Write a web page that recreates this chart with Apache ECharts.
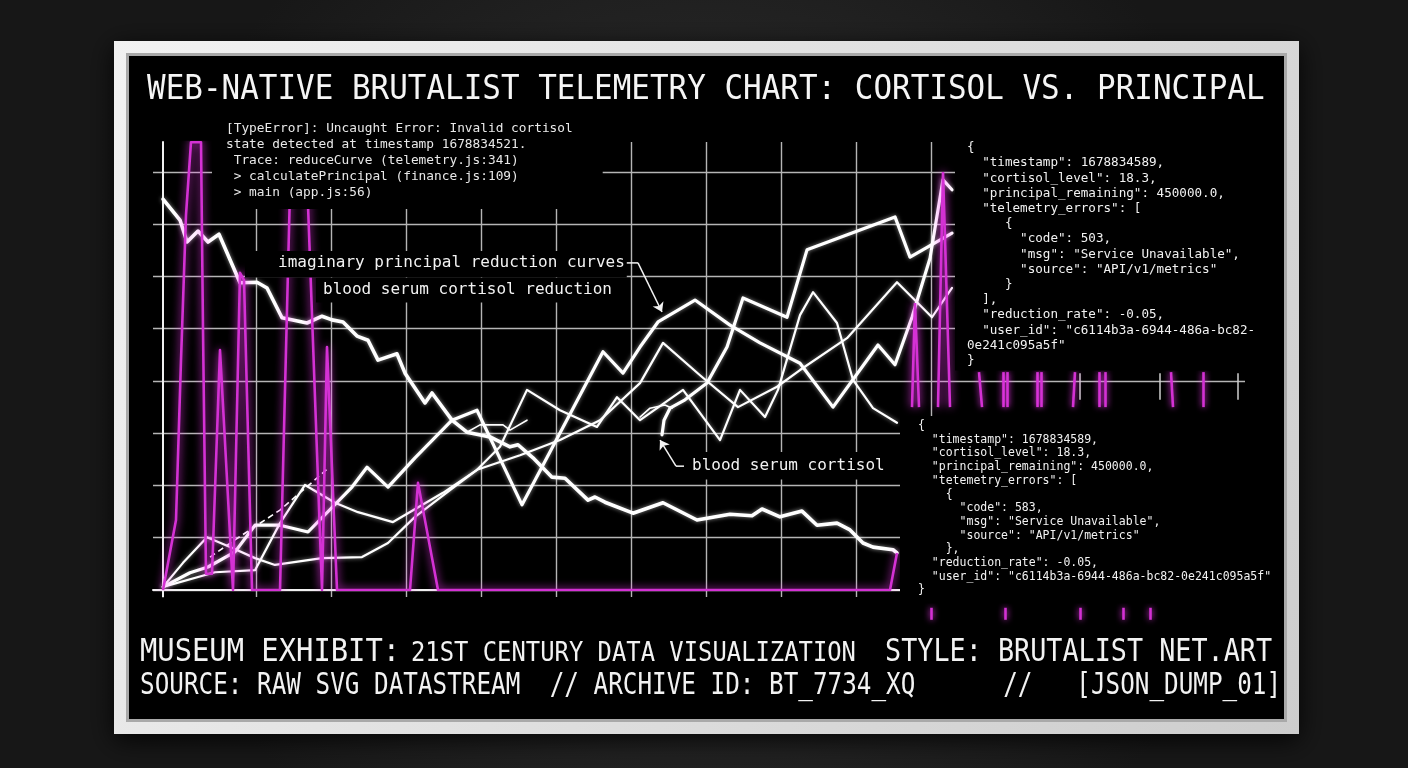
<!DOCTYPE html>
<html>
<head>
<meta charset="utf-8">
<script src="https://cdn.jsdelivr.net/npm/echarts@6/dist/echarts.min.js"></script>
<style>
html,body{margin:0;padding:0;background:#1b1b1b;}
#chart{width:1408px;height:768px;}
</style>
</head>
<body>
<div id="chart"></div>
<script>
// ---------------- DATA (x = sample time, y = normalised level) ----------------
const cortisolReduction = [[0,7.48],[17,7.08],[24,6.66],[35,6.87],[45,6.66],[56,6.81],[77,5.88],[94,5.89],[104,5.78],[119,5.21],[144,5.11],[159,5.24],[169,5.17],[180,5.13],[194,4.86],[205,4.78],[215,4.40],[234,4.52],[242,4.15],[262,3.58],[269,3.77],[289,3.25],[304,3.02],[327,2.93],[347,2.74],[355,2.78],[370,2.53],[389,2.16],[402,2.14],[425,1.72],[432,1.78],[442,1.68],[470,1.47],[500,1.67],[534,1.34],[567,1.45],[589,1.42],[599,1.55],[617,1.40],[639,1.51],[654,1.24],[674,1.28],[687,1.15],[700,0.90],[710,0.82],[730,0.77],[734,0.71]];
const principalCurve = [[0,0.06],[27,0.33],[45,0.44],[72,0.73],[92,1.24],[117,1.24],[145,1.11],[189,1.97],[204,2.35],[225,1.97],[252,2.53],[289,3.25],[314,3.44],[359,1.63],[440,4.56],[460,4.15],[477,4.65],[495,5.13],[532,5.55],[567,5.07],[597,4.73],[637,4.34],[670,3.50],[715,4.69],[732,4.31],[749,5.22],[767,6.35],[780,7.85],[789,7.66]];
const principalTop = [[499,2.97],[501,3.25],[507,3.48],[522,3.64],[544,3.96],[564,4.65],[580,5.59],[624,5.22],[644,6.51],[732,7.14],[747,6.37],[789,6.83]];
const telemetryZigzag = [[0,0.06],[52,0.34],[92,0.38],[117,1.28],[142,2.01],[172,1.67],[195,1.49],[230,1.30],[280,1.86],[314,2.30],[337,2.74],[364,3.83],[397,3.44],[434,3.12],[454,3.69],[477,3.25],[520,3.83],[557,2.87],[577,3.83],[602,3.31],[615,3.83],[637,5.26],[650,5.70],[674,5.11],[690,4.02],[710,3.48],[734,3.20]];
const serumCortisol = [[0,0.06],[20,0.52],[44,1.01],[70,0.80],[92,0.61],[112,0.48],[159,0.61],[199,0.63],[225,0.90],[252,1.40],[287,1.91],[314,2.30],[357,2.58],[397,2.87],[437,3.25],[477,3.96],[500,4.73],[537,4.11],[575,3.50],[614,3.89],[637,4.21],[684,4.82],[734,5.89],[769,5.22],[789,5.78]];
const dashedTrace = [[47,0.63],[72,0.96],[117,1.53],[155,2.16],[165,2.33]];
const hookTrace = [[304,3.02],[317,3.16],[340,3.16],[347,3.06],[364,3.25]];
const curlTrace = [[477,3.31],[487,3.48],[502,3.54],[509,3.48]];
const errorSignal = [[0,0],[13,1.34],[18,4.40],[23,7.18],[28,8.57],[38,8.57],[40,4.98],[43,0.31],[49,0.31],[57,4.59],[70,0],[77,6.07],[81,5.93],[89,0],[117,0],[128,8.42],[143,8.42],[159,0],[164,4.65],[174,0],[247,0],[255,2.05],[275,0],[727,0],[734,0.71]];
const errorSpikes = [[[749,3.5],[752,5.49],[756,3.5]],[[775,3.5],[780,8.0],[787,3.5]]];
const stripBarBottomX = [819,840,844,874,878,910,936,942,1010,1040];
const stripBarTopX    = [816,840,844,874,878,912,936,942,1008,1040];
const stripBarRange = [3.5, 4.17];
const stripTickX = [917, 997, 1075];
const stripTickRange = [3.64, 4.15];
const lowerTickX = [768, 842, 917, 960, 987];
const lowerTickRange = [-0.34, -0.57];
const axisFoot = [[0, 0], [0, -0.14]];

// ---------------- TEXT ----------------
const titleText = 'WEB-NATIVE BRUTALIST TELEMETRY CHART: CORTISOL VS. PRINCIPAL';
const errorLines = [
  '[TypeError]: Uncaught Error: Invalid cortisol',
  'state detected at timestamp 1678834521.',
  ' Trace: reduceCurve (telemetry.js:341)',
  ' > calculatePrincipal (finance.js:109)',
  ' > main (app.js:56)'
];
const labelPrincipal = 'imaginary principal reduction curves';
const labelReduction = 'blood serum cortisol reduction';
const labelCortisol = 'blood serum cortisol';
const jsonUpper = [
  '{',
  '  "timestamp": 1678834589,',
  '  "cortisol_level": 18.3,',
  '  "principal_remaining": 450000.0,',
  '  "telemetry_errors": [',
  '     {',
  '       "code": 503,',
  '       "msg": "Service Unavailable",',
  '       "source": "API/v1/metrics"',
  '     }',
  '  ],',
  '  "reduction_rate": -0.05,',
  '  "user_id": "c6114b3a-6944-486a-bc82-',
  '0e241c095a5f"',
  '}'
];
const jsonLower = [
  '{',
  '  "timestamp": 1678834589,',
  '  "cortisol_level": 18.3,',
  '  "principal_remaining": 450000.0,',
  '  "tetemetry_errors": [',
  '    {',
  '      "code": 583,',
  '      "msg": "Service Unavailable",',
  '      "source": "API/v1/metrics"',
  '    },',
  '  "reduction_rate": -0.05,',
  '  "user_id": "c6114b3a-6944-486a-bc82-0e241c095a5f"',
  '}'
];
const captionA = 'MUSEUM EXHIBIT:';
const captionB = '21ST CENTURY DATA VISUALIZATION';
const captionC = 'STYLE: BRUTALIST NET.ART';
const captionD = 'SOURCE: RAW SVG DATASTREAM  // ARCHIVE ID: BT_7734_XQ      //   [JSON_DUMP_01]';

// ---------------- CHART ----------------
const MONO = '"DejaVu Sans Mono", "Liberation Mono", monospace';
const MAG = '#d431d4';
const chart = echarts.init(document.getElementById('chart'), null, {renderer: 'canvas'});

function whiteLine(name, data, width, extra) {
  return Object.assign({
    name, type: 'line', data, xAxisIndex: 0, yAxisIndex: 0,
    symbol: 'none', showSymbol: false, silent: true, z: 3,
    lineStyle: {color: '#ffffff', width, shadowBlur: 4, shadowColor: 'rgba(255,255,255,0.55)', cap: 'round', join: 'round'}
  }, extra || {});
}
function segs(xs, x2s, range) {
  return xs.map((x, i) => ({coords: [[x, range[0]], [x2s[i], range[1]]]}));
}
function txt(text, x, y, font, opts) {
  return Object.assign({
    type: 'text', x, y, z: 100, silent: true,
    style: Object.assign({text, x: 0, y: 0, font, fill: '#f2f2f2', align: 'left', verticalAlign: 'top'}, (opts && opts.style) || {})
  }, opts && opts.el || {});
}

const option = {
  animation: false,
  backgroundColor: '#1b1b1b',
  graphic: {elements: [
    {type: 'rect', z: -30, silent: true, shape: {x: 0, y: 0, width: 1408, height: 768},
      style: {fill: {type: 'radial', x: 0.5, y: 0.5, r: 0.75, colorStops: [{offset: 0, color: '#343434'}, {offset: 1, color: '#171717'}]}}},
    {type: 'rect', z: -25, silent: true, shape: {x: 114, y: 41, width: 1185, height: 693},
      style: {fill: {type: 'linear', x: 0, y: 0, x2: 1, y2: 1, colorStops: [{offset: 0, color: '#f2f2f2'}, {offset: 1, color: '#cdcdcd'}]},
        shadowBlur: 24, shadowColor: 'rgba(0,0,0,0.85)', shadowOffsetY: 6}},
    {type: 'rect', z: -24, silent: true, shape: {x: 126, y: 53, width: 1161, height: 669}, style: {fill: '#a9a9a9'}},
    {type: 'rect', z: -23, silent: true, shape: {x: 129, y: 56, width: 1155, height: 663}, style: {fill: '#000000'}},

    txt(titleText, 147, 90, '34px ' + MONO, {style: {verticalAlign: 'middle', fill: '#f5f5f5'}, el: {scaleX: 0.91}}),
    txt(errorLines.join('\n'), 212, 119, '12.8px ' + MONO, {style: {lineHeight: 16, backgroundColor: '#000', padding: [2, 30, 8, 14], fill: '#e8e8e8'}}),
    txt(labelPrincipal, 245, 251, '16px ' + MONO, {style: {lineHeight: 19, backgroundColor: '#000', padding: [2.5, 2, 5, 33]}}),
    txt(labelReduction, 316, 278, '16px ' + MONO, {style: {lineHeight: 19, backgroundColor: '#000', padding: [2.5, 3, 3, 7]}}),
    txt(labelCortisol, 684, 452, '16px ' + MONO, {style: {lineHeight: 19, backgroundColor: '#000', padding: [4.5, 6, 4, 8]}}),
    txt(jsonUpper.join('\n'), 955, 137, '12.6px ' + MONO, {style: {lineHeight: 15.2, backgroundColor: '#000', padding: [3.4, 10, 2, 12]}}),
    txt(jsonLower.join('\n'), 900, 416, '11.5px ' + MONO, {style: {lineHeight: 13.7, backgroundColor: '#000', padding: [3.2, 8, 6, 18]}}),
    txt(captionA, 140, 653, '32px ' + MONO, {style: {verticalAlign: 'middle'}, el: {scaleX: 0.9}}),
    txt(captionB, 411, 654, '27px ' + MONO, {style: {verticalAlign: 'middle'}, el: {scaleX: 0.883}}),
    txt(captionC, 885, 653, '32px ' + MONO, {style: {verticalAlign: 'middle'}, el: {scaleX: 0.837}}),
    txt(captionD, 140, 686, '30px ' + MONO, {style: {verticalAlign: 'middle'}, el: {scaleX: 0.81}})
  ]},
  grid: [
    {left: 153, top: 142, width: 1092, height: 448},
    {left: 181, top: 142, width: 750, height: 455}
  ],
  xAxis: [
    {gridIndex: 0, type: 'value', min: -10, max: 1082,
      axisLine: {show: true, onZero: true, lineStyle: {color: '#f0f0f0', width: 2}},
      axisTick: {show: false}, axisLabel: {show: false}, splitLine: {show: false}},
    {gridIndex: 1, type: 'value', min: 0, max: 10, interval: 1,
      axisLine: {show: false}, axisTick: {show: false}, axisLabel: {show: false},
      splitLine: {show: true, showMinLine: false, lineStyle: {color: '#b5b5b5', width: 1.4}}}
  ],
  yAxis: [
    {gridIndex: 0, type: 'value', min: 0, max: 8.574, interval: 1,
      axisLine: {show: true, onZero: true, lineStyle: {color: '#f0f0f0', width: 2}},
      axisTick: {show: false}, axisLabel: {show: false},
      splitLine: {show: true, showMaxLine: false, lineStyle: {color: '#b5b5b5', width: 1.4}}},
    {gridIndex: 1, type: 'value', min: 0, max: 1, show: false}
  ],
  series: [
    whiteLine('cortisol reduction', cortisolReduction, 3.6),
    whiteLine('principal reduction', principalCurve, 3.2),
    whiteLine('principal top', principalTop, 3.2),
    whiteLine('telemetry zigzag', telemetryZigzag, 2.2),
    whiteLine('blood serum cortisol', serumCortisol, 2.2),
    whiteLine('dashed trace', dashedTrace, 1.6, {lineStyle: {color: '#fff', width: 1.6, type: [6, 4]}}),
    whiteLine('hook trace', hookTrace, 1.6),
    whiteLine('curl trace', curlTrace, 1.6),
    {name: 'error signal', type: 'line', data: errorSignal, symbol: 'none', showSymbol: false, silent: true, z: 5,
      lineStyle: {color: MAG, width: 2.6, shadowBlur: 8, shadowColor: '#ff3cff', join: 'round'}},
    {name: 'error spikes', type: 'lines', coordinateSystem: 'cartesian2d', polyline: true, silent: true, z: 5, clip: false,
      data: errorSpikes.map(c => ({coords: c})),
      lineStyle: {color: MAG, width: 2.6, opacity: 1, shadowBlur: 8, shadowColor: '#ff3cff'}},
    {name: 'strip bars', type: 'lines', coordinateSystem: 'cartesian2d', silent: true, z: 5, clip: false,
      data: segs(stripBarBottomX, stripBarTopX, stripBarRange),
      lineStyle: {color: MAG, width: 2.6, opacity: 1, shadowBlur: 6, shadowColor: '#ff3cff'}},
    {name: 'strip ticks', type: 'lines', coordinateSystem: 'cartesian2d', silent: true, z: 4, clip: false,
      data: segs(stripTickX, stripTickX, stripTickRange),
      lineStyle: {color: '#cfcfcf', width: 1.5, opacity: 1}},
    {name: 'lower ticks', type: 'lines', coordinateSystem: 'cartesian2d', silent: true, z: 5, clip: false,
      data: segs(lowerTickX, lowerTickX, lowerTickRange),
      lineStyle: {color: MAG, width: 2.6, opacity: 1, shadowBlur: 6, shadowColor: '#ff3cff'}},
    {name: 'axis foot', type: 'lines', coordinateSystem: 'cartesian2d', silent: true, z: 2, clip: false,
      data: [{coords: axisFoot}],
      lineStyle: {color: '#f0f0f0', width: 2, opacity: 1}},
    {name: 'leaders', type: 'lines', coordinateSystem: 'cartesian2d', polyline: true, silent: true, z: 6, clip: false,
      data: [{coords: [[463, 6.26], [475, 6.26]]}, {coords: [[525, 2.37], [513, 2.37]]}],
      lineStyle: {color: '#f2f2f2', width: 1.5, opacity: 1}},
    {name: 'arrows', type: 'lines', coordinateSystem: 'cartesian2d', silent: true, z: 6, clip: false,
      symbol: ['none', 'arrow'], symbolSize: 9,
      data: [{coords: [[475, 6.26], [499, 5.32]]}, {coords: [[513, 2.37], [497, 2.87]]}],
      lineStyle: {color: '#f2f2f2', width: 1.5, opacity: 1}}
  ]
};
chart.setOption(option);
</script>
</body>
</html>
